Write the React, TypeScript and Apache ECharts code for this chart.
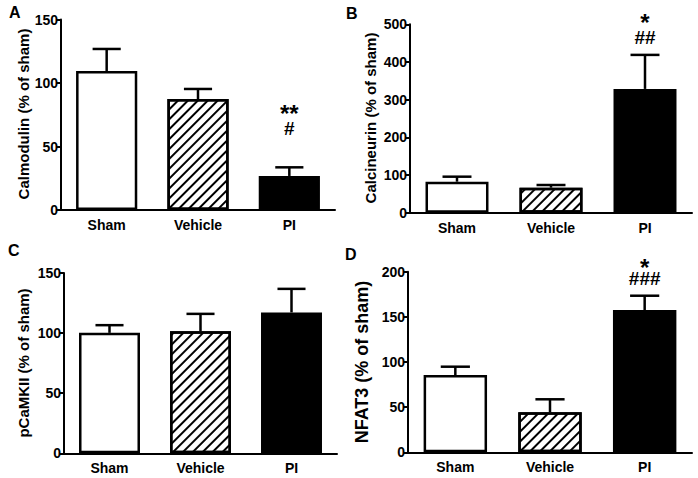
import React, { useEffect, useRef } from "react";
import * as echarts from "echarts";

const categories = ["Sham", "Vehicle", "PI"];

const calmodulinMean = [109.4, 87.4, 26.8];
const calmodulinSem = [17.4, 7.9, 6.8];
const calmodulinStars = ["", "", "**"];
const calmodulinHashes = ["", "", "#"];

const calcineurinMean = [82.3, 66.4, 328.5];
const calcineurinSem = [13.3, 7.1, 90.3];
const calcineurinStars = ["", "", "*"];
const calcineurinHashes = ["", "", "##"];

const pcamkiiMean = [100.2, 101.6, 117.2];
const pcamkiiSem = [6.4, 14.4, 19.6];
const pcamkiiStars = ["", "", ""];
const pcamkiiHashes = ["", "", ""];

const nfat3Mean = [85.6, 44.3, 157.6];
const nfat3Sem = [9.2, 14.4, 15.8];
const nfat3Stars = ["", "", "*"];
const nfat3Hashes = ["", "", "###"];

const FONT = "Liberation Sans, Arial, sans-serif";

const panels = [
  {
    letter: "A", name: "Calmodulin (% of sham)", mean: calmodulinMean, sem: calmodulinSem,
    stars: calmodulinStars, hashes: calmodulinHashes, max: 150, interval: 50,
    grid: { left: 61, top: 19.5, width: 274, height: 190.5 },
    namePos: [23, 114], nameSize: 15, letterPos: [9, 12], hashOff: 39, starOff: 60,
  },
  {
    letter: "B", name: "Calcineurin (% of sham)", mean: calcineurinMean, sem: calcineurinSem,
    stars: calcineurinStars, hashes: calcineurinHashes, max: 500, interval: 100,
    grid: { left: 410, top: 24.3, width: 282, height: 188.4 },
    namePos: [370, 118], nameSize: 15, letterPos: [346, 13], hashOff: 17, starOff: 38.5,
  },
  {
    letter: "C", name: "pCaMKII (% of sham)", mean: pcamkiiMean, sem: pcamkiiSem,
    stars: pcamkiiStars, hashes: pcamkiiHashes, max: 150, interval: 50,
    grid: { left: 64, top: 273, width: 273, height: 180.3 },
    namePos: [23, 363], nameSize: 15, letterPos: [8, 250], hashOff: 17, starOff: 34,
  },
  {
    letter: "D", name: "NFAT3 (% of sham)", mean: nfat3Mean, sem: nfat3Sem,
    stars: nfat3Stars, hashes: nfat3Hashes, max: 200, interval: 50,
    grid: { left: 408, top: 271.7, width: 284, height: 180.6 },
    namePos: [362, 362], nameSize: 18, letterPos: [345, 254], hashOff: 17.5, starOff: 34,
  },
];

export default function App() {
  const ref = useRef<HTMLDivElement>(null);

  useEffect(() => {
    if (!ref.current) return;
    const chart = echarts.init(ref.current, null, { renderer: "svg" });

    const grids: any[] = [];
    const xAxes: any[] = [];
    const yAxes: any[] = [];
    const series: any[] = [];
    const graphics: any[] = [];

    panels.forEach((p, i) => {
      grids.push({ ...p.grid, containLabel: false });
      xAxes.push({
        type: "category",
        gridIndex: i,
        data: categories,
        axisLine: { lineStyle: { color: "#000", width: 2 } },
        axisTick: { show: false },
        axisLabel: { color: "#000", fontFamily: FONT, fontWeight: "bold", fontSize: 14, margin: 8 },
      });
      yAxes.push({
        type: "value",
        gridIndex: i,
        min: 0,
        max: p.max,
        interval: p.interval,
        axisLine: { show: true, lineStyle: { color: "#000", width: 2 } },
        axisTick: { show: true, length: 5, lineStyle: { color: "#000", width: 2 } },
        splitLine: { show: false },
        axisLabel: { color: "#000", fontFamily: FONT, fontWeight: "bold", fontSize: 14, margin: 3 },
      });
      series.push({
        type: "bar",
        xAxisIndex: i,
        yAxisIndex: i,
        barWidth: "67%",
        z: 2,
        data: p.mean.map((v, k) => ({
          value: v,
          itemStyle:
            k === 0
              ? { color: "#fff", borderColor: "#000", borderWidth: 2.5 }
              : k === 1
              ? {
                  color: "#fff",
                  borderColor: "#000",
                  borderWidth: 2.5,
                  decal: {
                    symbol: "rect",
                    symbolSize: 1,
                    color: "#000",
                    dashArrayX: [1, 0],
                    dashArrayY: [1.6, 4.2],
                    rotation: -Math.PI / 4,
                  },
                }
              : { color: "#000", borderColor: "#000", borderWidth: 2.5 },
        })),
      });
      series.push({
        type: "custom",
        xAxisIndex: i,
        yAxisIndex: i,
        z: 3,
        data: p.mean.map((v, k) => [k, v, v + p.sem[k]]),
        renderItem: (params: any, api: any) => {
          const x = api.value(0);
          const p0 = api.coord([x, api.value(1)]);
          const p1 = api.coord([x, api.value(2)]);
          const bw = api.size([1, 0])[0] * 0.67;
          const cap = bw * 0.46;
          const k = params.dataIndex;
          const children: any[] = [
            { type: "line", shape: { x1: p0[0], y1: p0[1], x2: p1[0], y2: p1[1] }, style: { stroke: "#000", lineWidth: 2.5 } },
            { type: "line", shape: { x1: p1[0] - cap / 2, y1: p1[1], x2: p1[0] + cap / 2, y2: p1[1] }, style: { stroke: "#000", lineWidth: 2.5 } },
          ];
          if (p.hashes[k]) {
            children.push({
              type: "text",
              style: {
                x: p1[0], y: p1[1] - p.hashOff, text: p.hashes[k], fill: "#000",
                font: `bold 19px ${FONT}`, align: "center", verticalAlign: "middle",
              },
            });
          }
          if (p.stars[k]) {
            children.push({
              type: "text",
              style: {
                x: p1[0], y: p1[1] - p.starOff + 6, text: p.stars[k], fill: "#000",
                font: `bold 24px ${FONT}`, align: "center", verticalAlign: "middle",
              },
            });
          }
          return { type: "group", children };
        },
      });
      graphics.push({
        type: "text",
        left: p.letterPos[0],
        top: p.letterPos[1] - 8,
        style: { text: p.letter, fill: "#000", font: `bold 16px ${FONT}` },
      });
      graphics.push({
        type: "text",
        x: p.namePos[0],
        y: p.namePos[1],
        rotation: Math.PI / 2,
        style: {
          text: p.name, fill: "#000", font: `bold ${p.nameSize}px ${FONT}`,
          align: "center", verticalAlign: "middle",
        },
      });
    });

    chart.setOption({
      animation: false,
      backgroundColor: "#fff",
      grid: grids,
      xAxis: xAxes,
      yAxis: yAxes,
      series,
      graphic: graphics,
    });

    return () => chart.dispose();
  }, []);

  return (
    <div
      ref={ref}
      style={{ position: "fixed", left: 0, top: 0, width: 698, height: 478 }}
    />
  );
}
